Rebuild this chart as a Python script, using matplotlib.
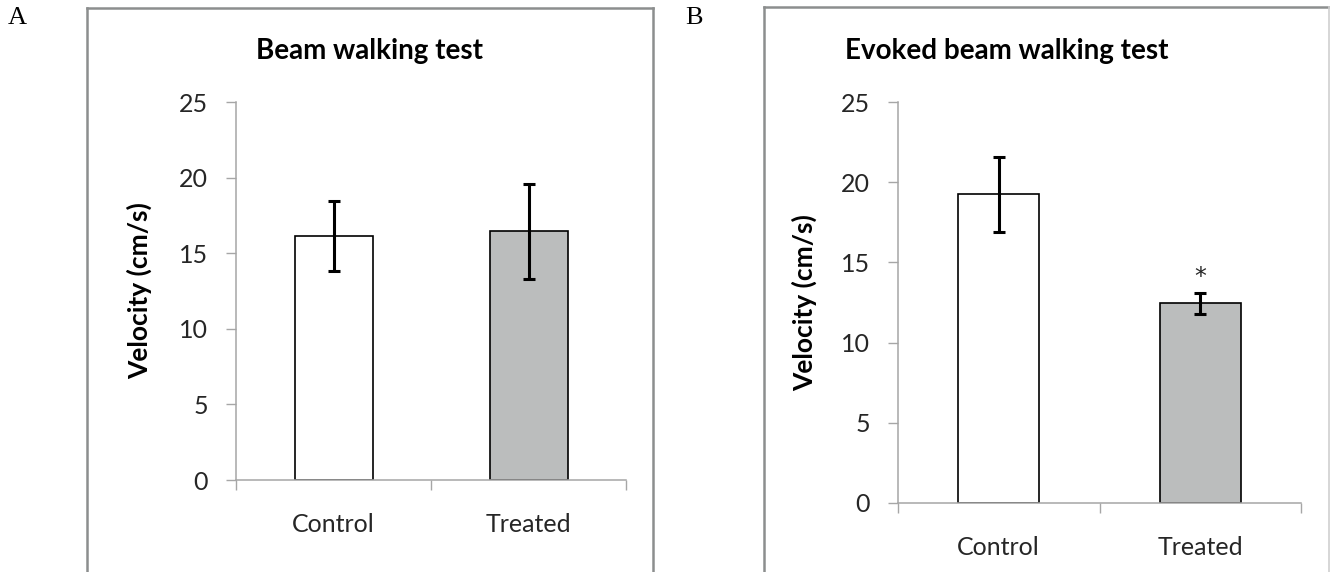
import matplotlib.pyplot as plt
from matplotlib.lines import Line2D

plt.rcParams['font.family'] = ['Lato', 'DejaVu Sans']

# data
groups = ['Control', 'Treated']
beam_mean = [16.15, 16.45]
beam_err = [2.3, 3.15]
evoked_mean = [19.25, 12.45]
evoked_err = [2.35, 0.67]
yticks = [0, 5, 10, 15, 20, 25]

W, H = 1330, 572
fig = plt.figure(figsize=(W / 100, H / 100), dpi=100)

bar_colors = ['white', '#bbbdbd']
axis_gray = '#a6a6a6'
box_gray = '#8c8e8e'
text_col = '#262626'


def px(x, y):
    # pixel coords (top-left origin) -> figure fraction
    return x / W, 1 - y / H


def panel(rect, title, title_xy, ylab_x, means, errs, star=False):
    ax = fig.add_axes(rect)
    xs = [0.5, 1.5]
    ax.bar(xs, means, width=0.4, color=bar_colors, edgecolor='black', linewidth=1.2, zorder=2)
    ax.errorbar(xs, means, yerr=errs, fmt='none', ecolor='black', elinewidth=2.2,
                capsize=4.6, capthick=2.2, zorder=3)
    if star:
        ax.text(xs[1], means[1] + errs[1] + 1.0, '*', ha='center', va='center',
                fontsize=17, color=text_col, family='DejaVu Sans')
    ax.set_xlim(0, 2)
    ax.set_ylim(0, 25)
    ax.set_yticks(yticks)
    ax.set_xticks([0, 1, 2])
    ax.set_xticklabels([])
    ax.set_xticks(xs, minor=True)
    ax.set_xticklabels(groups, minor=True)
    ax.tick_params(axis='x', which='minor', length=0, pad=24, labelsize=18, labelcolor=text_col)
    ax.tick_params(axis='x', which='major', length=7.2, width=1, color=axis_gray, direction='out')
    ax.tick_params(axis='y', length=7.2, width=1, color=axis_gray, direction='out', pad=13,
                   labelsize=18, labelcolor=text_col)
    for s in ['top', 'right']:
        ax.spines[s].set_visible(False)
    for s in ['left', 'bottom']:
        ax.spines[s].set_color(axis_gray)
        ax.spines[s].set_linewidth(1.1)
    ax.set_ylabel('Velocity (cm/s)', fontsize=19, fontweight='bold', color='black', va='center')
    ax.yaxis.set_label_coords(ylab_x, 0.5)
    tx, ty = px(*title_xy)
    fig.text(tx, ty, title, ha='center', va='center', fontsize=20, fontweight='bold', color='black')
    return ax


# panel A: axis x 236..626, y(0)=480, y(25)=102
panel([236 / W, 1 - 480 / H, 390 / W, 378 / H], 'Beam walking test', (370, 51), -0.248,
      beam_mean, beam_err)
# panel B: axis x 898..1301, y(0)=502.7, y(25)=102.3
panel([898 / W, 1 - 502.7 / H, 403 / W, 400.4 / H], 'Evoked beam walking test', (1007, 51), -0.232,
      evoked_mean, evoked_err, star=True)


def frame_line(p0, p1, color=box_gray, lw=1.8):
    (x0, y0), (x1, y1) = px(*p0), px(*p1)
    fig.add_artist(Line2D([x0, x1], [y0, y1], color=color, linewidth=lw, solid_capstyle='projecting'))


# outer panel frames (cut off at the bottom of the image)
frame_line((87, 580), (87, 8))
frame_line((87, 8), (653, 8))
frame_line((653, 8), (653, 580))
frame_line((764, 580), (764, 7))
frame_line((764, 7), (1329, 7))
frame_line((1329, 7), (1329, 580), color='#cfcfcf', lw=1.2)

# panel letters
fig.text(*px(17, 18), 'A', ha='center', va='center', fontsize=19, family='Liberation Serif')
fig.text(*px(694, 18), 'B', ha='center', va='center', fontsize=19, family='Liberation Serif')

fig.savefig('out.png', dpi=100)
